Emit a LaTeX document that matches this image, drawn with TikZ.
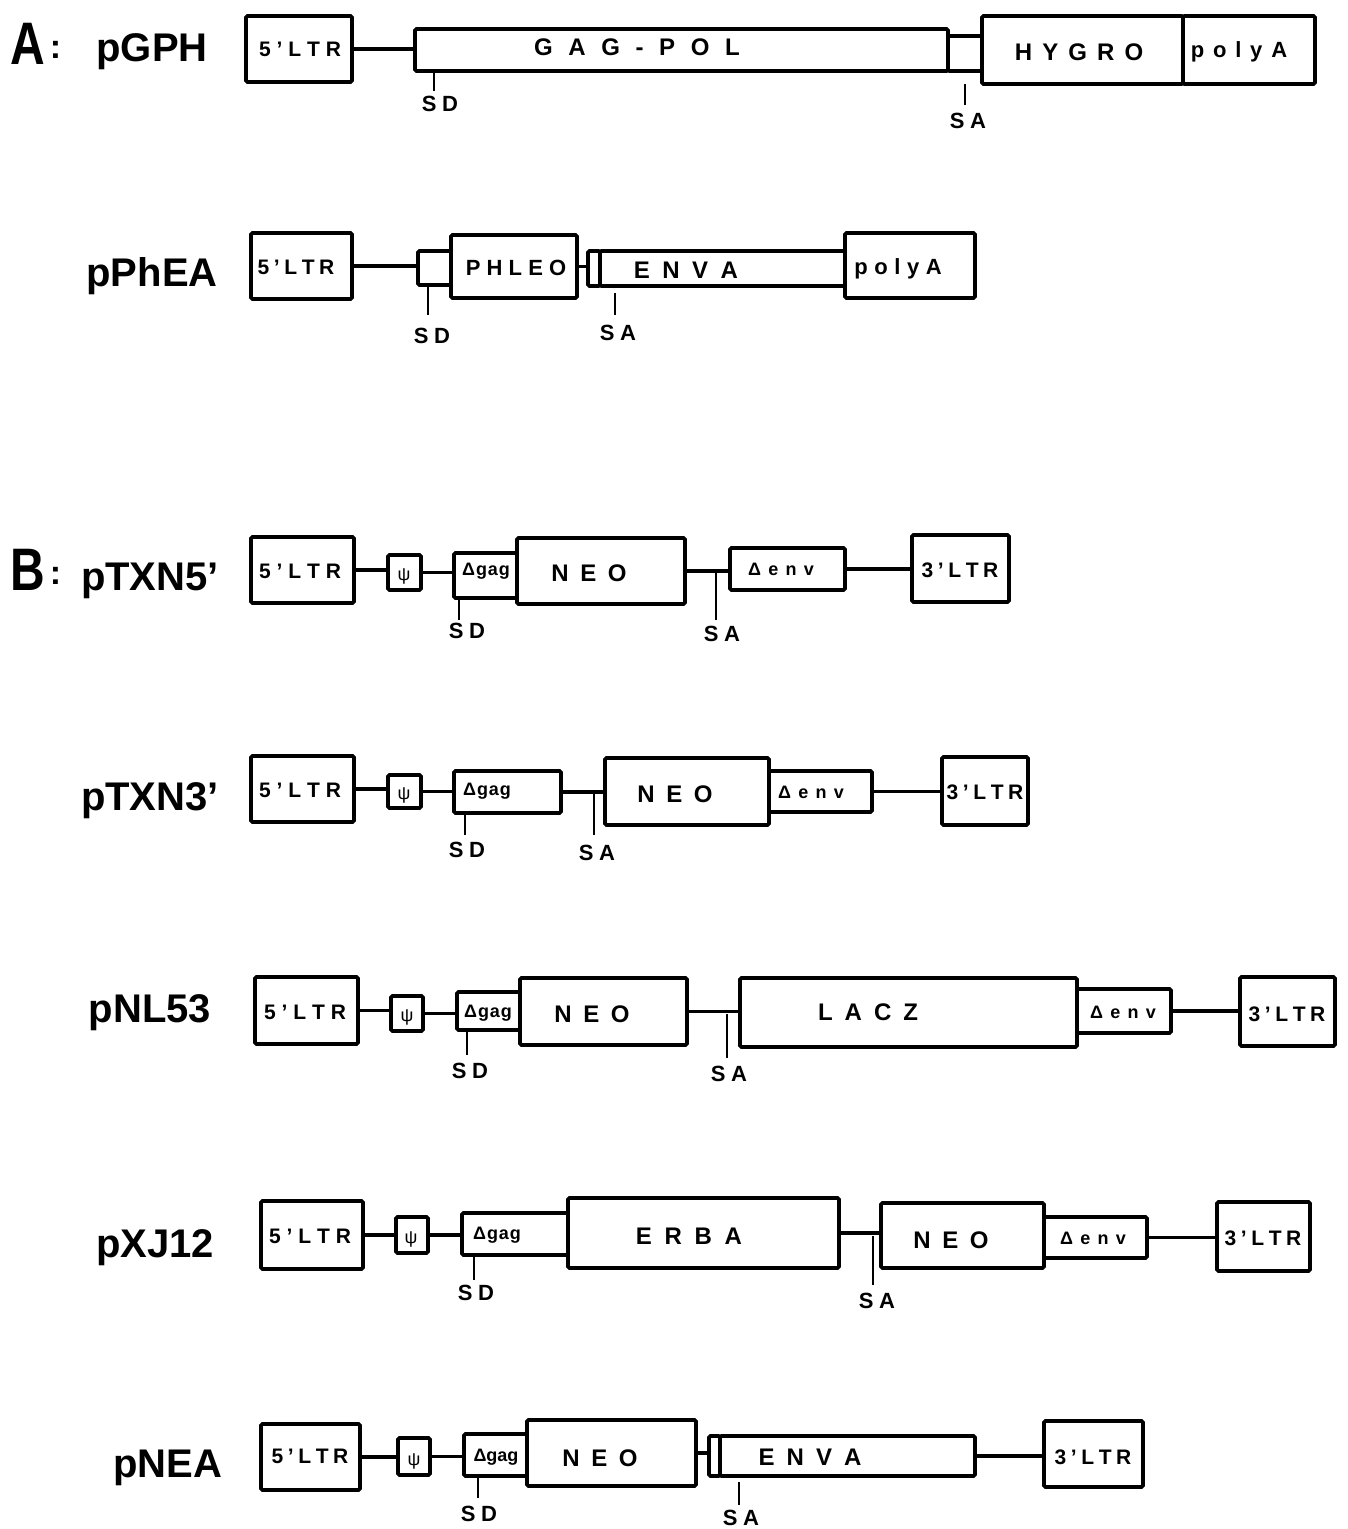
\documentclass[tikz,border=0pt]{standalone}
\usepackage{fontspec}
\setmainfont{Liberation Sans}
\ExplSyntaxOn
\NewDocumentCommand\trk{mm}{\hspace*{#1}\tl_map_inline:nn{#2}{##1\kern#1\relax}}
\ExplSyntaxOff
\tikzset{
  gbox/.style={draw, line width=3.6pt, rounded corners=1.5pt, inner sep=0pt, outer sep=0pt},
  conn/.style={line width=3.2pt},
  tickln/.style={line width=1.5pt},
  rowlbl/.style={anchor=base, inner sep=0pt, font=\fontsize{40}{40}\selectfont\bfseries},
  psitxt/.style={anchor=base, inner sep=0pt, font=\fontsize{18}{18}\selectfont},
}
\newcommand{\gbx}[5]{\node[gbox, minimum width={#4-#2}, minimum height={#5-#3}] (#1) at ({(#2+#4)/2},{(#3+#5)/2}) {};}
\newcommand{\gtx}[6]{\node[anchor=base, inner sep=0pt] (#1) at (#2,#3) {\fontsize{#4}{#4}\selectfont\bfseries\trk{\fpeval{#5/100}em}{#6}};}
\newcommand{\hconn}[2]{\draw[conn] (#1.east) -- (#1.east -| #2.west);}
\begin{document}
\begin{tikzpicture}[x=1pt, y=-1pt]
\useasboundingbox (0,0) rectangle (1347,1529);
% section letters
\node[anchor=base west, inner sep=0pt] (secA) at (10,64) {\scalebox{0.8}[1]{\fontsize{60}{60}\selectfont\bfseries A}\hspace{5pt}\raisebox{6pt}{\fontsize{34}{34}\selectfont\bfseries :}};
\node[anchor=base west, inner sep=0pt] (secB) at (10,590) {\scalebox{0.8}[1]{\fontsize{60}{60}\selectfont\bfseries B}\hspace{5pt}\raisebox{6pt}{\fontsize{34}{34}\selectfont\bfseries :}};
% row labels
\node[rowlbl] (lA) at (152,61) {pGPH};
\node[rowlbl] (lB) at (152,286) {pPhEA};
\node[rowlbl] (lC) at (150,590) {pTXN5’};
\node[rowlbl] (lD) at (150,810) {pTXN3’};
\node[rowlbl] (lE) at (150,1022) {pNL53};
\node[rowlbl] (lF) at (155,1257) {pXJ12};
\node[rowlbl] (lG) at (168,1477) {pNEA};

% ---------- pGPH ----------
\gbx{altr}{246}{16}{352}{82}
\gbx{agag}{415}{29}{948}{71}
\gbx{asm}{948}{36}{982}{71}
\gbx{ahyg}{982}{16}{1183}{84}
\gbx{apa}{1183}{16}{1315}{84}
\hconn{altr}{agag}
\gtx{taltr}{300}{56}{21}{28}{5’LTR}
\gtx{tagag}{637}{55}{24}{65}{GAG-POL}
\gtx{tahyg}{1079}{60}{24}{42}{HYGRO}
\gtx{tapa}{1239}{57}{22}{40}{polyA}
\coordinate (asd) at (434,71);
\draw[tickln] (asd) -- ++(0,20);
\gtx{asdl}{440}{111}{22}{25}{SD}
\coordinate (asa) at (965,84);
\draw[tickln] (asa) -- ++(0,21);
\gtx{asal}{968}{128}{22}{25}{SA}

% ---------- pPhEA ----------
\gbx{bltr}{251}{233}{352}{299}
\gbx{bsm}{418}{251}{451}{285}
\gbx{bphl}{451}{235}{577}{298}
\gbx{bnar}{588}{251}{600}{286}
\gbx{benv}{600}{251}{845}{286}
\gbx{bpa}{845}{233}{975}{298}
\hconn{bltr}{bsm}
\hconn{bphl}{bnar}
\gtx{tbltr}{296}{274}{21}{22}{5’LTR}
\gtx{tbphl}{516}{275}{22}{28}{PHLEO}
\gtx{tbenv}{686}{278}{24}{52}{ENVA}
\gtx{tbpa}{898}{274}{22}{30}{polyA}
\coordinate (bsd) at (428,287);
\draw[tickln] (bsd) -- ++(0,28);
\gtx{bsdl}{432}{343}{22}{25}{SD}
\coordinate (bsa) at (615,293);
\draw[tickln] (bsa) -- ++(0,22);
\gtx{bsal}{618}{340}{22}{25}{SA}

% ---------- pTXN5' ----------
\gbx{cltr}{251}{537}{354}{603}
\gbx{cpsi}{388}{555}{421}{590}
\gbx{cdg}{454}{553}{517}{598}
\gbx{cneo}{517}{538}{685}{604}
\gbx{cde}{730}{548}{845}{590}
\gbx{cltrr}{912}{535}{1009}{602}
\hconn{cltr}{cpsi}
\hconn{cpsi}{cdg}
\hconn{cneo}{cde}
\hconn{cde}{cltrr}
\gtx{tcltr}{300}{578}{21}{28}{5’LTR}
\node[psitxt] (tcpsi) at (404,580) {ψ};
\gtx{tcdg}{486}{575}{18}{5}{Δgag}
\gtx{tcneo}{589}{581}{24}{48}{NEO}
\gtx{tcde}{781}{575}{18}{40}{Δenv}
\gtx{tcltrr}{960}{577}{21}{22}{3’LTR}
\coordinate (csd) at (459,600);
\draw[tickln] (csd) -- ++(0,20);
\gtx{csdl}{467}{638}{22}{25}{SD}
\coordinate (csa) at (716,573);
\draw[tickln] (csa) -- ++(0,47);
\gtx{csal}{722}{641}{22}{25}{SA}

% ---------- pTXN3' ----------
\gbx{dltr}{251}{756}{354}{822}
\gbx{dpsi}{388}{775}{421}{808}
\gbx{ddg}{454}{771}{561}{813}
\gbx{dneo}{605}{758}{769}{825}
\gbx{dde}{769}{771}{872}{812}
\gbx{dltrr}{942}{757}{1028}{825}
\hconn{dltr}{dpsi}
\hconn{dpsi}{ddg}
\hconn{ddg}{dneo}
\hconn{dde}{dltrr}
\gtx{tdltr}{300}{797}{21}{28}{5’LTR}
\node[psitxt] (tdpsi) at (404,799) {ψ};
\gtx{tddg}{487}{795}{18}{5}{Δgag}
\gtx{tdneo}{675}{802}{24}{48}{NEO}
\gtx{tdde}{811}{798}{18}{40}{Δenv}
\gtx{tdltrr}{985}{799}{21}{22}{3’LTR}
\coordinate (dsd) at (465,815);
\draw[tickln] (dsd) -- ++(0,20);
\gtx{dsdl}{467}{857}{22}{25}{SD}
\coordinate (dsa) at (594,793);
\draw[tickln] (dsa) -- ++(0,42);
\gtx{dsal}{597}{860}{22}{25}{SA}

% ---------- pNL53 ----------
\gbx{eltr}{255}{977}{358}{1044}
\gbx{epsi}{391}{996}{423}{1031}
\gbx{edg}{457}{992}{520}{1030}
\gbx{eneo}{520}{978}{687}{1045}
\gbx{elac}{740}{978}{1077}{1047}
\gbx{ede}{1077}{989}{1171}{1033}
\gbx{eltrr}{1240}{977}{1335}{1046}
\hconn{eltr}{epsi}
\hconn{epsi}{edg}
\hconn{eneo}{elac}
\hconn{ede}{eltrr}
\gtx{teltr}{305}{1019}{21}{28}{5’LTR}
\node[psitxt] (tepsi) at (407,1021) {ψ};
\gtx{tedg}{488}{1017}{18}{5}{Δgag}
\gtx{teneo}{592}{1022}{24}{48}{NEO}
\gtx{telac}{868}{1020}{24}{50}{LACZ}
\gtx{tede}{1123}{1018}{18}{40}{Δenv}
\gtx{teltrr}{1287}{1021}{21}{22}{3’LTR}
\coordinate (esd) at (467,1032);
\draw[tickln] (esd) -- ++(0,23);
\gtx{esdl}{470}{1078}{22}{25}{SD}
\coordinate (esa) at (727,1014);
\draw[tickln] (esa) -- ++(0,44);
\gtx{esal}{729}{1081}{22}{25}{SA}

% ---------- pXJ12 ----------
\gbx{fltr}{261}{1201}{363}{1269}
\gbx{fpsi}{396}{1217}{428}{1253}
\gbx{fdg}{462}{1213}{568}{1255}
\gbx{ferb}{568}{1198}{839}{1268}
\gbx{fneo}{881}{1203}{1044}{1268}
\gbx{fde}{1044}{1217}{1147}{1258}
\gbx{fltrr}{1217}{1202}{1310}{1271}
\hconn{fltr}{fpsi}
\hconn{fpsi}{fdg}
\hconn{ferb}{fneo}
\hconn{fde}{fltrr}
\gtx{tfltr}{310}{1243}{21}{28}{5’LTR}
\node[psitxt] (tfpsi) at (411,1243) {ψ};
\gtx{tfdg}{497}{1239}{18}{5}{Δgag}
\gtx{tferb}{689}{1244}{24}{53}{ERBA}
\gtx{tfneo}{951}{1248}{24}{48}{NEO}
\gtx{tfde}{1093}{1244}{18}{40}{Δenv}
\gtx{tfltrr}{1263}{1245}{21}{22}{3’LTR}
\coordinate (fsd) at (474,1257);
\draw[tickln] (fsd) -- ++(0,23);
\gtx{fsdl}{476}{1300}{22}{25}{SD}
\coordinate (fsa) at (873,1236);
\draw[tickln] (fsa) -- ++(0,49);
\gtx{fsal}{877}{1308}{22}{25}{SA}

% ---------- pNEA ----------
\gbx{gltr}{261}{1424}{360}{1490}
\gbx{gpsi}{398}{1438}{430}{1475}
\gbx{gdg}{464}{1434}{527}{1476}
\gbx{gneo}{527}{1420}{696}{1486}
\gbx{gnar}{709}{1436}{720}{1476}
\gbx{genv}{720}{1436}{975}{1476}
\gbx{gltrr}{1044}{1421}{1143}{1487}
\hconn{gltr}{gpsi}
\hconn{gpsi}{gdg}
\hconn{gneo}{gnar}
\hconn{genv}{gltrr}
\gtx{tgltr}{310}{1463}{21}{22}{5’LTR}
\node[psitxt] (tgpsi) at (414,1465) {ψ};
\gtx{tgdg}{496}{1461}{18}{0}{Δgag}
\gtx{tgneo}{600}{1466}{24}{48}{NEO}
\gtx{tgenv}{810}{1465}{24}{50}{ENVA}
\gtx{tgltrr}{1093}{1464}{21}{22}{3’LTR}
\coordinate (gsd) at (478,1477);
\draw[tickln] (gsd) -- ++(0,21);
\gtx{gsdl}{479}{1521}{22}{25}{SD}
\coordinate (gsa) at (739,1482);
\draw[tickln] (gsa) -- ++(0,23);
\gtx{gsal}{741}{1525}{22}{25}{SA}
\end{tikzpicture}
\end{document}
